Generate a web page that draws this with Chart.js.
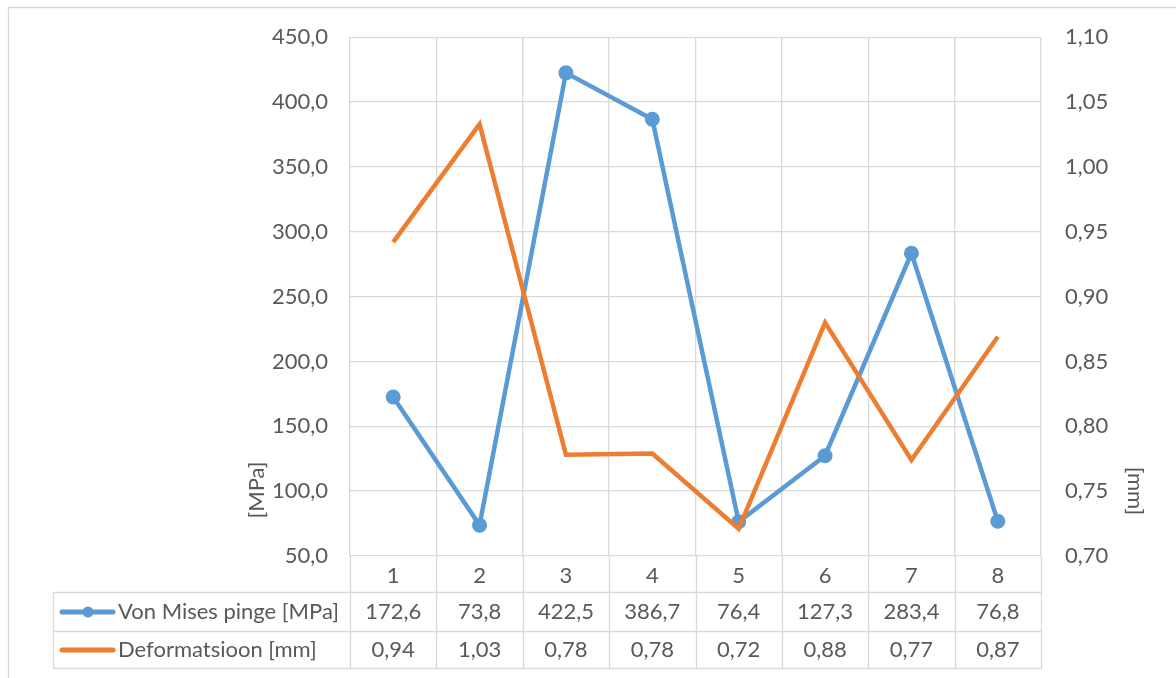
<!DOCTYPE html>
<html>
<head>
<meta charset="utf-8">
<title>Von Mises pinge ja deformatsioon</title>
<script src="https://cdn.jsdelivr.net/npm/chart.js@4.4.1/dist/chart.umd.min.js"></script>
<style>
  html, body { margin: 0; padding: 0; background: #ffffff; }
  #wrap { width: 1176px; height: 678px; position: relative; }
</style>
</head>
<body>
<div id="wrap"><canvas id="chart" width="1176" height="678"></canvas></div>
<script>
// Test cases 1..8
const categories = ['1', '2', '3', '4', '5', '6', '7', '8'];
// Von Mises stress per case, MPa (left axis)
const vonMises = [172.6, 73.8, 422.5, 386.7, 76.4, 127.3, 283.4, 76.8];
// Deformation per case, mm (right axis)
const deformation = [0.942, 1.033, 0.778, 0.779, 0.721, 0.880, 0.774, 0.869];
const seriesNames = ['Von Mises pinge [MPa]', 'Deformatsioon [mm]'];
const axisTitles = ['[MPa]', '[mm]'];
const stressRange = [50, 450, 50];
const deformRange = [0.70, 1.10, 0.05];

const BLUE = '#5B9BD5';
const ORANGE = '#ED7D31';
const GRID = '#d9d9d9';
const TEXT = '#595959';
const FONT = 'Lato, "Open Sans", sans-serif';
const FS = 22;

const comma = (v, d) => v.toFixed(d).replace('.', ',');

// Frame, data table under the axis, legend keys and axis titles
const tablePlugin = {
  id: 'dataTable',
  afterDraw(chart) {
    const ctx = chart.ctx;
    const area = chart.chartArea;
    const xs = chart.scales.x;
    const n = categories.length;
    const step = (area.right - area.left) / n;
    const tTop = 592, tMid = 631, tBot = 668, tLeft = 53;

    ctx.save();
    ctx.strokeStyle = GRID;
    ctx.lineWidth = 1.3;

    // outer chart frame
    ctx.beginPath();
    ctx.moveTo(8.5, 678); ctx.lineTo(8.5, 7.5); ctx.lineTo(1176, 7.5);
    ctx.stroke();

    // column lines through the category row and table
    ctx.beginPath();
    for (let i = 0; i <= n; i++) {
      const x = Math.round(area.left + i * step) + 0.5;
      ctx.moveTo(x, area.bottom); ctx.lineTo(x, tBot);
    }
    // row lines
    [tTop, tMid, tBot].forEach(y => {
      ctx.moveTo(tLeft, y + 0.5); ctx.lineTo(area.right + 1, y + 0.5);
    });
    ctx.moveTo(tLeft + 0.5, tTop); ctx.lineTo(tLeft + 0.5, tBot);
    ctx.stroke();

    // legend keys
    const r1 = (tTop + tMid) / 2 + 0.5;
    const r2 = (tMid + tBot) / 2 + 0.5;
    ctx.lineCap = 'round';
    ctx.lineWidth = 5;
    ctx.strokeStyle = BLUE;
    ctx.beginPath(); ctx.moveTo(62, r1); ctx.lineTo(113, r1); ctx.stroke();
    ctx.fillStyle = BLUE;
    ctx.beginPath(); ctx.arc(88, r1, 5.5, 0, Math.PI * 2); ctx.fill();
    ctx.strokeStyle = ORANGE;
    ctx.beginPath(); ctx.moveTo(62, r2); ctx.lineTo(113, r2); ctx.stroke();

    // row labels and values
    ctx.fillStyle = TEXT;
    ctx.font = FS + 'px ' + FONT;
    ctx.textBaseline = 'middle';
    ctx.textAlign = 'left';
    ctx.fillText(seriesNames[0], 118, r1);
    ctx.fillText(seriesNames[1], 118, r2);
    ctx.textAlign = 'center';
    for (let i = 0; i < n; i++) {
      const x = xs.getPixelForValue(i);
      ctx.fillText(comma(vonMises[i], 1), x, r1);
      ctx.fillText(comma(deformation[i], 2), x, r2);
    }

    // axis titles
    ctx.save();
    ctx.translate(257, 490);
    ctx.rotate(-Math.PI / 2);
    ctx.fillText(axisTitles[0], 0, 0);
    ctx.restore();
    ctx.save();
    ctx.translate(1135, 491);
    ctx.rotate(Math.PI / 2);
    ctx.fillText(axisTitles[1], 0, 0);
    ctx.restore();

    ctx.restore();
  }
};

new Chart(document.getElementById('chart'), {
  type: 'line',
  data: {
    labels: categories,
    datasets: [
      {
        label: seriesNames[0],
        data: vonMises,
        yAxisID: 'y',
        borderColor: BLUE,
        backgroundColor: BLUE,
        borderWidth: 4.5,
        pointRadius: 7.5,
        pointBorderWidth: 0,
        pointBackgroundColor: BLUE,
        tension: 0,
        order: 1
      },
      {
        label: seriesNames[1],
        data: deformation,
        yAxisID: 'y1',
        borderColor: ORANGE,
        backgroundColor: ORANGE,
        borderWidth: 4.5,
        pointRadius: 0,
        tension: 0,
        order: 0
      }
    ]
  },
  options: {
    responsive: false,
    animation: false,
    devicePixelRatio: 1,
    layout: { padding: { left: 8, right: 0, top: 36, bottom: 86 } },
    plugins: { legend: { display: false }, tooltip: { enabled: false } },
    scales: {
      x: {
        offset: true,
        grid: { color: GRID, lineWidth: 1.3, drawTicks: false, offset: true },
        border: { display: false },
        ticks: { color: TEXT, font: { family: FONT, size: FS }, padding: 7, maxRotation: 0 },
        afterFit(s) { s.height = 36; }
      },
      y: {
        position: 'left',
        min: stressRange[0], max: stressRange[1],
        grid: { color: GRID, lineWidth: 1.3, drawTicks: false },
        border: { display: false },
        ticks: {
          stepSize: stressRange[2],
          color: TEXT, font: { family: FONT, size: FS }, padding: 22,
          callback: v => comma(v, 1)
        },
        afterFit(s) { s.width = 342; }
      },
      y1: {
        position: 'right',
        min: deformRange[0], max: deformRange[1],
        grid: { drawOnChartArea: false, drawTicks: false },
        border: { display: false },
        ticks: {
          stepSize: deformRange[2],
          color: TEXT, font: { family: FONT, size: FS }, padding: 24,
          callback: v => comma(v, 2)
        },
        afterFit(s) { s.width = 135; }
      }
    }
  },
  plugins: [tablePlugin]
});
</script>
</body>
</html>
